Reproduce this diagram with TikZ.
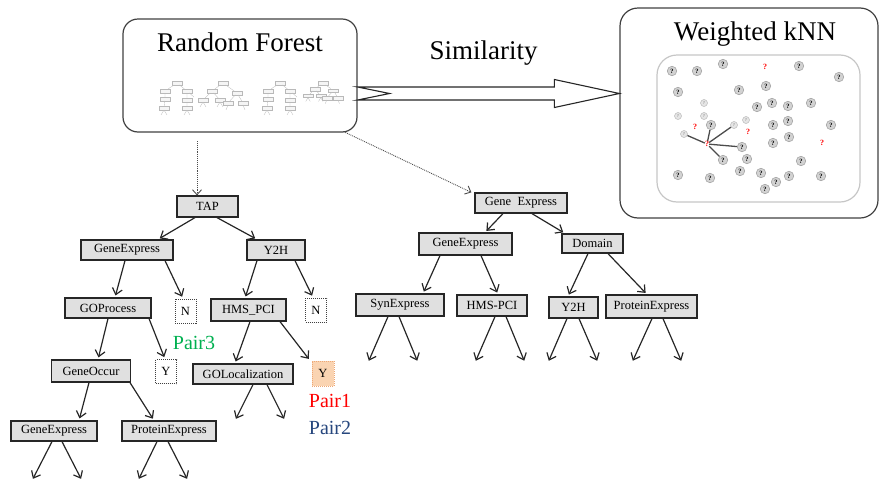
\documentclass[tikz,border=0pt]{standalone}
\usepackage{fontspec}
\setmainfont{Liberation Serif}
\usetikzlibrary{arrows.meta,calc}

\definecolor{boxgray}{RGB}{224,224,224}
\definecolor{pairgreen}{RGB}{0,176,80}
\definecolor{pairblue}{RGB}{38,70,125}
\definecolor{leafpeach}{RGB}{250,212,178}
\definecolor{leafedge}{RGB}{238,168,118}

\tikzset{
  panel/.style={draw=black!75, line width=1.2pt, rounded corners=15pt, inner sep=0pt},
  title/.style={font=\fontsize{27}{30}\selectfont},
  tbox/.style={draw=black!85, line width=1.2pt, fill=boxgray, inner sep=0pt, minimum height=20pt, font=\fontsize{12.5}{12.5}\selectfont},
  leaf/.style={draw=black!75, densely dotted, line width=1pt, fill=white, inner sep=0pt, minimum width=21pt, minimum height=24pt, font=\fontsize{12.5}{12.5}\selectfont},
  branch/.style={draw=black!85, line width=1.2pt, shorten >=2pt, -{Straight Barb[length=6pt,width=10pt]}},
  hint/.style={draw=black!70, densely dotted, line width=0.9pt, -{Straight Barb[length=5pt,width=9pt]}},
  pairtxt/.style={font=\fontsize{20}{20}\selectfont, inner sep=0pt},
  twig/.style={draw=gray!55, fill=gray!8, line width=0.35pt, minimum width=10pt, minimum height=3.5pt, inner sep=0pt, path picture={\draw[red!40, line width=0.5pt] (path picture bounding box.south west) -- (path picture bounding box.south east);}},
  twigline/.style={draw=gray!50, line width=0.35pt},
  nb/.style={circle, draw=gray!70, fill=gray!35, line width=0.6pt, minimum size=9.5pt, inner sep=0pt, font=\fontsize{6.5}{6.5}\selectfont\bfseries},
  nbl/.style={circle, draw=gray!55, fill=gray!20, line width=0.5pt, minimum size=7pt, inner sep=0pt, text=gray!80, font=\fontsize{4.5}{4.5}\selectfont\bfseries},
  qry/.style={inner sep=0pt, text=red, font=\fontsize{8}{8}\selectfont\bfseries},
  link/.style={draw=black!70, line width=1.3pt}
}

\begin{document}
\begin{tikzpicture}[x=1pt,y=1pt,yscale=-1]
    \useasboundingbox (0,0) rectangle (879,485);

    % Random Forest panel
    \node[panel, minimum width=234pt, minimum height=113pt] (rf) at (240,75.5) {};
    \node[title] (rftitle) at (240,42) {Random Forest};
    % forest sketches
    \foreach \mx in {177,280}{
      \begin{scope}[shift={(\mx,83)}]
        \node[twig] (ta) at (0,0) {};
        \node[twig] (tb) at (-12,8) {};
        \node[twig] (tc) at (10,8) {};
        \node[twig] (td) at (-12,16) {};
        \node[twig] (te) at (10,17) {};
        \node[twig] (tf) at (-13,25) {};
        \node[twig] (tg) at (10,25) {};
        \draw[twigline] (ta) -- (tb) (ta) -- (tc) (tb) -- (td) (tc) -- (te) (td) -- (tf) (te) -- (tg) (tc) -- (17,14);
        \draw[twigline] (tf.south) -- ++(-3,5) (tf.south) -- ++(3,5) (tg.south) -- ++(-3,5) (tg.south) -- ++(3,5);
      \end{scope}
    }
    \foreach \mx/\ms in {223/1,323/0.75}{
      \begin{scope}[shift={(\mx,83)}, scale=\ms]
        \node[twig] (ta) at (0,0) {};
        \node[twig] (tb) at (-11,8) {};
        \node[twig] (tc) at (14,10) {};
        \node[twig] (td) at (-20,17) {};
        \node[twig] (te) at (-3,17) {};
        \node[twig] (tf) at (5,20) {};
        \node[twig] (tg) at (20,20) {};
        \draw[twigline] (ta) -- (tb) (ta) -- (tc) (tb) -- (td) (tb) -- (te) (tc) -- (tf) (tc) -- (tg);
        \draw[twigline] (td.south) -- ++(-3,5) (td.south) -- ++(3,5) (te.south) -- ++(-3,5) (te.south) -- ++(3,5) (tf.south) -- ++(-2,5) (tg.south) -- ++(2,5);
      \end{scope}
    }

    % Weighted kNN panel
    \node[panel, rounded corners=18pt, minimum width=258pt, minimum height=210pt] (knn) at (749,113) {};
    \node[title] (knntitle) at (755,34) {Weighted kNN};
    \node[draw=gray!45, line width=1.2pt, rounded corners=20pt, minimum width=203pt, minimum height=147pt] (space) at (758.5,128.5) {};

    % neighbours
    \foreach \px/\py in {672/71,697/71,723/64,799/66,839/77,678/92,739/90,766/86,757/107,772/103,788/106,811/103,773/125,788/121,831/125,773/143,789/137,747/159,801/161,678/175,710/178,740/171,761/173,789/176,776/182,765/189,821/176}
      \node[nb] at (\px,\py) {?};
    \foreach \px/\py in {704/103,678/116,704/116,746/120}
      \node[nbl] at (\px,\py) {?};
    \foreach \px/\py in {765/67,695/127,748/132,822/143}
      \node[qry] at (\px,\py) {?};
    \node[nb] (k1) at (711,125) {?};
    \node[nbl] (k2) at (734,125) {?};
    \node[nbl] (k3) at (684,134) {?};
    \node[nb] (k4) at (742,147) {?};
    \node[nb] (k5) at (723,160) {?};
    \node[qry] (query) at (707,144) {?};
    \foreach \k in {k1,k2,k3,k4,k5}
      \draw[link] (query) -- (\k);

    % Similarity arrow
    \node[title] (simtxt) at (483.5,53) {Similarity};
    \coordinate (simtail) at (rf.east |- 0,93.5);
    \coordinate (simtip) at (knn.west |- 0,93.5);
    \draw[draw=black!85, line width=1.1pt, fill=white, line join=miter] ($(simtail)+(0,-6.5)$) -- ($(simtip)+(-65,-6.5)$) -- ($(simtip)+(-65,-14)$) -- (simtip) -- ($(simtip)+(-65,14)$) -- ($(simtip)+(-65,6.5)$) -- ($(simtail)+(0,6.5)$) -- ($(simtail)+(32,0)$) -- cycle;

    % left tree
    \node[tbox, minimum width=61pt, minimum height=21pt] (tap) at (207.5,206.5) {TAP};
    \node[tbox, minimum width=92pt] (ge1) at (127,250) {GeneExpress};
    \node[tbox, minimum width=58pt] (y2h1) at (276,250) {Y2H};
    \node[tbox, minimum width=86pt] (gop) at (108,308) {GOProcess};
    \node[leaf] (n1) at (185.5,311) {N};
    \node[tbox, minimum width=75pt, minimum height=22pt] (hms1) at (248.5,310) {HMS\_PCI};
    \node[leaf] (n2) at (316,310) {N};
    \node[tbox, minimum width=79pt, minimum height=22pt] (gocc) at (91,371) {GeneOccur};
    \node[leaf] (y1) at (166,371.5) {Y};
    \node[tbox, minimum width=100pt] (goloc) at (243,374) {GOLocalization};
    \node[leaf, draw=leafedge, fill=leafpeach, minimum width=22pt, minimum height=25pt] (y2) at (323,373.5) {Y};
    \node[tbox, minimum width=86pt] (ge2) at (54,431) {GeneExpress};
    \node[tbox, minimum width=94pt] (pe1) at (169,431) {ProteinExpress};

    \node[pairtxt, text=pairgreen] (pair3) at (194,343) {Pair3};
    \node[pairtxt, text=red] (pair1) at (330,401) {Pair1};
    \node[pairtxt, text=pairblue] (pair2) at (330,428) {Pair2};

    \draw[branch] ([xshift=-12.5pt]tap.south) -- ([xshift=31pt]ge1.north);
    \draw[branch] ([xshift=9.5pt]tap.south) -- ([xshift=-19pt]y2h1.north);
    \draw[branch] ([xshift=-2pt]ge1.south) -- ([xshift=7pt]gop.north);
    \draw[branch] ([xshift=38pt]ge1.south) -- ([xshift=-2.5pt]n1.north);
    \draw[branch] ([xshift=-19pt]y2h1.south) -- ([xshift=-3.5pt]hms1.north);
    \draw[branch] ([xshift=19pt]y2h1.south) -- ([xshift=-3pt]n2.north);
    \draw[branch] (gop.south) -- ([xshift=7pt]gocc.north);
    \draw[branch] ([xshift=41pt]gop.south) -- ([xshift=-1pt]y1.north);
    \draw[branch] ([xshift=1.5pt]hms1.south) -- ([xshift=-8pt]goloc.north);
    \draw[branch] ([xshift=31.5pt]hms1.south) -- ([xshift=-13pt]y2.north);
    \draw[branch] ([xshift=-2pt]gocc.south) -- ([xshift=25pt]ge2.north);
    \draw[branch] ([xshift=39pt]gocc.south) -- ([xshift=-15pt]pe1.north);
    \draw[branch] ([xshift=10pt]goloc.south) -- ++(-18,36);
    \draw[branch] ([xshift=24pt]goloc.south) -- ++(18,36);
    \draw[branch] ([xshift=-2pt]ge2.south) -- ++(-20,39);
    \draw[branch] ([xshift=8pt]ge2.south) -- ++(20,39);
    \draw[branch] ([xshift=-12pt]pe1.south) -- ++(-19,39);
    \draw[branch] ([xshift=-1pt]pe1.south) -- ++(20,39);

    % right tree
    \node[tbox, minimum width=92pt] (gex) at (521,203) {Gene~~Express};
    \node[tbox, minimum width=93pt, minimum height=22pt] (ge3) at (465.5,244) {GeneExpress};
    \node[tbox, minimum width=61pt, minimum height=19pt] (dom) at (592.5,243.5) {Domain};
    \node[tbox, minimum width=88pt, minimum height=22pt] (syn) at (400,305) {SynExpress};
    \node[tbox, minimum width=70pt, minimum height=21pt] (hms2) at (492,305.5) {HMS-PCI};
    \node[tbox, minimum width=49pt, minimum height=21pt] (y2h2) at (573.5,307.5) {Y2H};
    \node[tbox, minimum width=91pt, minimum height=23pt] (pe2) at (651.5,306.5) {ProteinExpress};

    \draw[branch] ([xshift=-18pt]gex.south) -- ([xshift=19.5pt]ge3.north);
    \draw[branch] ([xshift=11pt]gex.south) -- ([xshift=-27.5pt]dom.north);
    \draw[branch] ([xshift=-25.5pt]ge3.south) -- ([xshift=23pt]syn.north);
    \draw[branch] ([xshift=15.5pt]ge3.south) -- ([xshift=6pt]hms2.north);
    \draw[branch] ([xshift=-4.5pt]dom.south) -- ([xshift=-5.5pt]y2h2.north);
    \draw[branch] ([xshift=15.5pt]dom.south) -- ([xshift=-4.5pt]pe2.north);
    \draw[branch] ([xshift=-12pt]syn.south) -- ++(-20,46);
    \draw[branch] ([xshift=-1pt]syn.south) -- ++(19,46);
    \draw[branch] ([xshift=3pt]hms2.south) -- ++(-20,46);
    \draw[branch] ([xshift=14pt]hms2.south) -- ++(19,46);
    \draw[branch] ([xshift=-6.5pt]y2h2.south) -- ++(-19,44);
    \draw[branch] ([xshift=5.5pt]y2h2.south) -- ++(19,44);
    \draw[branch] ([xshift=0.5pt]pe2.south) -- ++(-20,44);
    \draw[branch] ([xshift=11.5pt]pe2.south) -- ++(19,44);

    % forest to trees
    \coordinate (rfdrop) at (197,141);
    \draw[hint] (rfdrop) -- (rfdrop |- tap.north);
    \draw[hint] ([xshift=-14pt,yshift=-1pt]rf.south east) -- ([xshift=-3pt]gex.north west);

\end{tikzpicture}
\end{document}
